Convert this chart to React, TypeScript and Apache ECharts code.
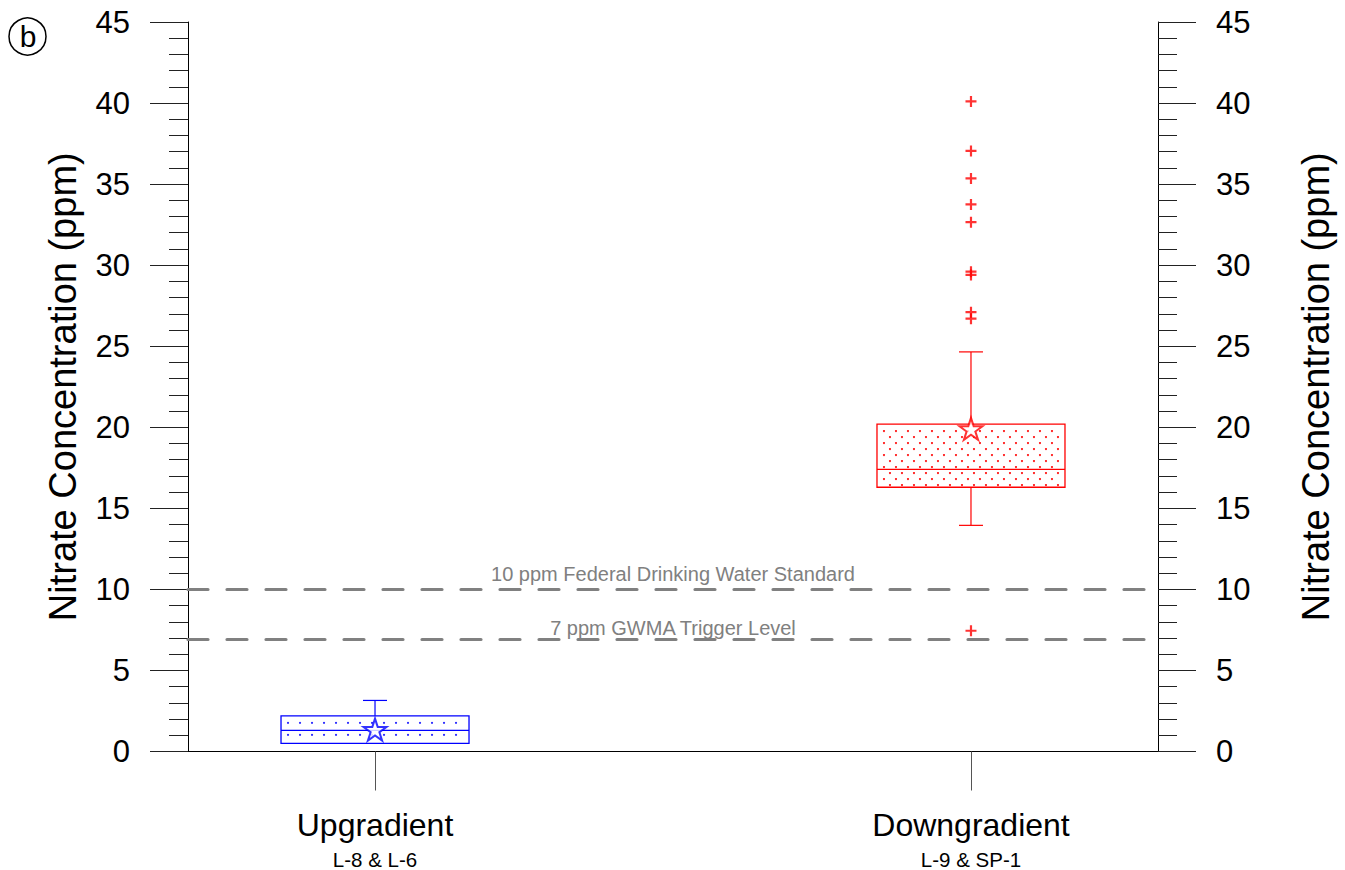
import React, { useEffect, useRef } from "react";
import * as echarts from "echarts";

// ---- data ----
const categories = ["Upgradient", "Downgradient"];
const wellLabels = ["L-8 & L-6", "L-9 & SP-1"];
const categoryPositions = [1, 2];
const lowerWhisker = [0.5, 13.95];
const q1 = [0.5, 16.3];
const median = [1.3, 17.4];
const q3 = [2.2, 20.2];
const upperWhisker = [3.15, 24.65];
const means = [1.35, 19.9];
const downgradientOutliers = [40.1, 37.05, 35.35, 33.75, 32.65, 29.6, 29.4, 27.1, 26.7, 7.45];
const thresholdValues = [10, 6.9];
const thresholdLabels = ["10 ppm Federal Drinking Water Standard", "7 ppm GWMA Trigger Level"];
const yMin = 0;
const yMax = 45;
const yInterval = 5;

// ---- style ----
const boxColors = ["#0000ff", "#ff0000"];
const dotStepY = [12, 6];
const dotStagger = [false, true];
const FONT = "'Liberation Sans', Arial, Helvetica, sans-serif";
const STAR =
  "path://M0,-100L22.45,-30.9L95.1,-30.9L36.3,11.8L58.8,80.9L0,38.2L-58.8,80.9L-36.3,11.8L-95.1,-30.9L-22.45,-30.9Z";
const PLUS = "path://M0,50L100,50M50,0L50,100";

export default function App() {
  const ref = useRef<HTMLDivElement>(null);

  useEffect(() => {
    if (!ref.current) return;
    const chart = echarts.init(ref.current, null, { renderer: "svg" });

    const yAxisCommon = (pos: "left" | "right", gap: number) => ({
      type: "value",
      position: pos,
      min: yMin,
      max: yMax,
      interval: yInterval,
      name: "Nitrate Concentration (ppm)",
      nameLocation: "middle",
      nameGap: gap,
      nameTextStyle: { fontSize: 38, color: "#000", fontFamily: FONT },
      axisLine: { show: true, lineStyle: { color: "#000", width: 1 } },
      axisTick: { show: true, length: 38, lineStyle: { color: "#222", width: 1 } },
      minorTick: { show: true, splitNumber: 5, length: 19, lineStyle: { color: "#222", width: 1 } },
      splitLine: { show: false },
      minorSplitLine: { show: false },
      axisLabel: { fontSize: 31, color: "#000", margin: 58, fontFamily: FONT },
    });

    const option: any = {
      animation: false,
      textStyle: { fontFamily: FONT },
      grid: { left: 188, right: 187, top: 22, bottom: 117, containLabel: false },
      xAxis: {
        type: "value",
        min: 0.6862,
        max: 2.3138,
        axisLine: { show: true, onZero: false, lineStyle: { color: "#000", width: 1 } },
        axisTick: {
          show: true,
          customValues: categoryPositions,
          length: 39,
          lineStyle: { color: "#555", width: 1 },
        },
        splitLine: { show: false },
        axisLabel: {
          customValues: categoryPositions,
          margin: 52,
          formatter: (v: number) => {
            const i = categoryPositions.indexOf(Math.round(v));
            if (i < 0) return "";
            return `{a|${categories[i]}}\n{b|${wellLabels[i]}}`;
          },
          rich: {
            a: { fontSize: 32, lineHeight: 42, color: "#000", fontFamily: FONT },
            b: { fontSize: 20.5, lineHeight: 28, color: "#000", fontFamily: FONT },
          },
        },
      },
      yAxis: [yAxisCommon("left", 106), yAxisCommon("right", 139)],
      graphic: [
        {
          type: "circle",
          shape: { cx: 27.5, cy: 36.5, r: 18.5 },
          style: { fill: "none", stroke: "#000", lineWidth: 1.5 },
        },
        {
          type: "text",
          x: 28,
          y: 36,
          style: {
            text: "b",
            fontSize: 30,
            fontFamily: FONT,
            fill: "#000",
            align: "center",
            verticalAlign: "middle",
          },
        },
      ],
      series: [
        {
          type: "custom",
          z: 3,
          encode: { x: 0, y: [1, 2, 3, 4, 5] },
          data: categoryPositions.map((x, i) => [
            x,
            lowerWhisker[i],
            q1[i],
            median[i],
            q3[i],
            upperWhisker[i],
          ]),
          renderItem: (params: any, api: any) => {
            const idx = params.dataIndex;
            const color = boxColors[idx];
            const x = api.value(0);
            const lo = api.coord([x, api.value(1)]);
            const b = api.coord([x, api.value(2)]);
            const m = api.coord([x, api.value(3)]);
            const t = api.coord([x, api.value(4)]);
            const hi = api.coord([x, api.value(5)]);
            const cx = b[0];
            const half = 94;
            const cap = 12;
            const left = cx - half;
            const right = cx + half;
            const top = t[1];
            const bottom = b[1];
            const children: any[] = [];
            let row = 0;
            for (let y = top + 7; y < bottom - 2; y += dotStepY[idx], row++) {
              const off = dotStagger[idx] && row % 2 ? 6 : 0;
              for (let xx = left + 7 + off; xx < right - 2; xx += 12) {
                children.push({
                  type: "circle",
                  shape: { cx: xx, cy: y, r: 1.1 },
                  style: { fill: color, opacity: 0.9 },
                });
              }
            }
            children.push({
              type: "rect",
              shape: { x: left, y: top, width: right - left, height: bottom - top },
              style: { fill: "none", stroke: color, lineWidth: 1.3 },
            });
            children.push({
              type: "line",
              shape: { x1: left, y1: m[1], x2: right, y2: m[1] },
              style: { stroke: color, lineWidth: 1.2 },
            });
            if (hi[1] < top) {
              children.push({
                type: "line",
                shape: { x1: cx, y1: top, x2: cx, y2: hi[1] },
                style: { stroke: color, lineWidth: 1.2 },
              });
              children.push({
                type: "line",
                shape: { x1: cx - cap, y1: hi[1], x2: cx + cap, y2: hi[1] },
                style: { stroke: color, lineWidth: 1.2 },
              });
            }
            if (lo[1] > bottom) {
              children.push({
                type: "line",
                shape: { x1: cx, y1: bottom, x2: cx, y2: lo[1] },
                style: { stroke: color, lineWidth: 1.2 },
              });
              children.push({
                type: "line",
                shape: { x1: cx - cap, y1: lo[1], x2: cx + cap, y2: lo[1] },
                style: { stroke: color, lineWidth: 1.2 },
              });
            }
            return { type: "group", children };
          },
        },
        {
          type: "scatter",
          z: 5,
          symbol: PLUS,
          symbolSize: 11,
          itemStyle: { color: "none", borderColor: "#ff0000", borderWidth: 2.2 },
          data: downgradientOutliers.map((v) => [categoryPositions[1], v]),
          markLine: {
            silent: true,
            symbol: "none",
            z: 2,
            lineStyle: { color: "#808080", width: 3.2, type: [20, 19], cap: "round" },
            label: {
              position: "insideMiddleTop",
              color: "#808080",
              fontSize: 20,
              fontFamily: FONT,
            },
            emphasis: { disabled: true },
            data: thresholdValues.map((v, i) => ({
              yAxis: v,
              label: { formatter: thresholdLabels[i], distance: [0, i === 0 ? 5 : 2] },
            })),
          },
        },
        {
          type: "scatter",
          z: 6,
          symbol: STAR,
          symbolSize: [23, 22],
          data: categoryPositions.map((x, i) => ({
            value: [x, means[i]],
            itemStyle: { color: "#ffffff", borderColor: boxColors[i], borderWidth: 2 },
          })),
        },
      ],
    };

    chart.setOption(option);
    return () => chart.dispose();
  }, []);

  return (
    <div
      ref={ref}
      style={{ position: "absolute", left: 0, top: 0, width: 1345, height: 870, background: "#fff" }}
    />
  );
}
